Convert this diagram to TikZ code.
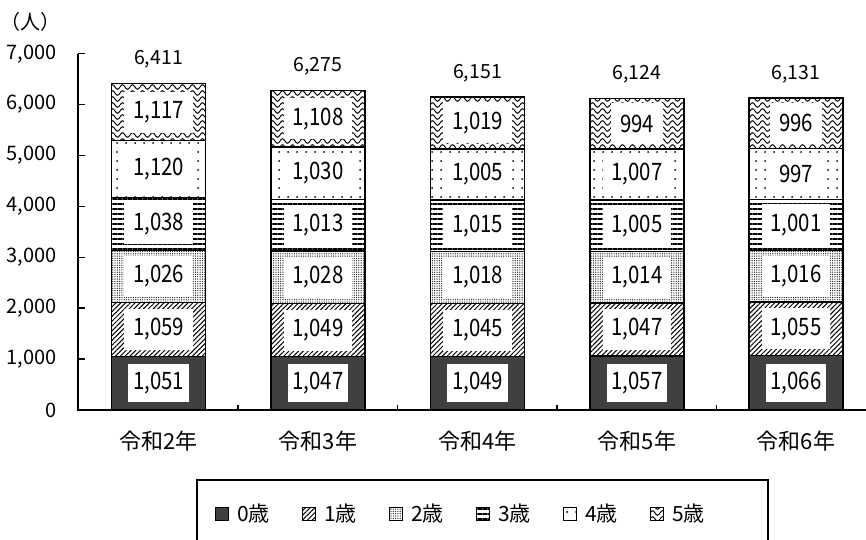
\documentclass[tikz,border=0pt]{standalone}
\usepackage{fontspec}
\setmainfont{Noto Sans CJK JP}
\newfontfamily\barfont[FakeStretch=0.85]{Noto Sans CJK JP}
\usetikzlibrary{positioning, patterns, patterns.meta}

\pgfkeys{/pgf/number format/.cd, 1000 sep={,}, assume math mode=true}

% wavy lines for 5 years old
\tikzdeclarepattern{
  name=waves,
  type=uncolored,
  bottom left={(0pt,-1pt)},
  top right={(10pt,5.5pt)},
  tile size={(10pt,6pt)},
  code={
    \draw[line width=1pt] (0pt,2pt) sin (2.5pt,4.3pt) cos (5pt,2pt) sin (7.5pt,-0.3pt) cos (10pt,2pt);
  }
}

\tikzset{
  age0/.style={fill=black!75},
  age1/.style={pattern={Lines[angle=45, distance=3.4pt, line width=1pt]}},
  age2/.style={pattern={Dots[distance=2.3pt, radius=0.65pt]}, pattern color=black!90},
  age3/.style={pattern={Lines[angle=0, distance=5pt, line width=1.8pt]}},
  age4/.style={pattern={Dots[distance=9pt, radius=1pt]}},
  age5/.style={pattern=waves},
  lbl/.style={fill=white, font=\barfont\fontsize{24pt}{24pt}\selectfont, inner xsep=9pt, minimum height=41pt},
  lbl0/.style={fill=white, font=\barfont\fontsize{24pt}{24pt}\selectfont, inner xsep=5pt, minimum height=38pt},
  lbl1/.style=lbl, lbl2/.style=lbl, lbl3/.style=lbl, lbl4/.style=lbl, lbl5/.style=lbl,
}

\begin{document}
\begin{tikzpicture}[
  x=1pt, y=1pt,
  axis/.style={draw=black, line width=1.5pt},
  seg/.style={draw=black, line width=1.5pt},
  ylbl/.style={anchor=east, inner sep=0pt, font=\fontsize{20pt}{20pt}\selectfont},
  tot/.style={font=\fontsize{19.5pt}{19.5pt}\selectfont},
  cat/.style={font=\fontsize{22pt}{22pt}\selectfont},
  legsq/.style={draw=black, line width=0.8pt, minimum size=13pt, inner sep=0pt},
  legtxt/.style={inner sep=0pt, font=\fontsize{21pt}{21pt}\selectfont},
]
\useasboundingbox[fill=white] (0,0) rectangle (866,539);

\node[font=\fontsize{20pt}{20pt}\selectfont] (unit) at (30,517) {（人）};

\begin{scope}[shift={(0,129)}, y=0.0509pt]
  % axes
  \draw[axis] (78,7000) -- (78,0) -- (866,0);
  \foreach \v in {0,1000,...,7000} {
    \draw[axis] (78,\v) -- ++(7pt,0);
    \node[ylbl] (y\v) at (57,\v) {\pgfmathprintnumber{\v}};
  }
  \foreach \t in {238,397.6,557,716.4}
    \draw[axis] (\t,0) -- ++(0,5pt);

  % bars
  \foreach \yr/\cx/\vals [count=\i] in {
      2/158.5/{1051,1059,1026,1038,1120,1117},
      3/318/{1047,1049,1028,1013,1030,1108},
      4/477.5/{1049,1045,1018,1015,1005,1019},
      5/637/{1057,1047,1014,1005,1007,994},
      6/796/{1066,1055,1016,1001,997,996}} {
    \gdef\bot{0}
    \foreach \v [count=\k from 0] in \vals {
      \pgfmathsetmacro\top{\bot+\v}
      \draw[seg, age\k] (\cx-47,\bot) rectangle (\cx+47,\top);
      \node[lbl\k] (b\i-\k) at (\cx,{(\bot+\top)/2}) {\pgfmathprintnumber{\v}};
      \xdef\bot{\top}
    }
    \node[tot] (t\i) at (\cx,\bot) [yshift=24pt] {\pgfmathprintnumber{\bot}};
    \node[cat] (c\i) at (\cx,0) [yshift=-31pt] {令和\yr 年};
  }
\end{scope}

% legend
\draw[line width=1.5pt] (197,-10) rectangle (768,59);
\foreach \k in {0,...,5} {
  \node[legsq, age\k] (s\k) at (222+87*\k,25) {};
  \node[legtxt, right=8pt of s\k] (k\k) {\k 歳};
}
\end{tikzpicture}
\end{document}
